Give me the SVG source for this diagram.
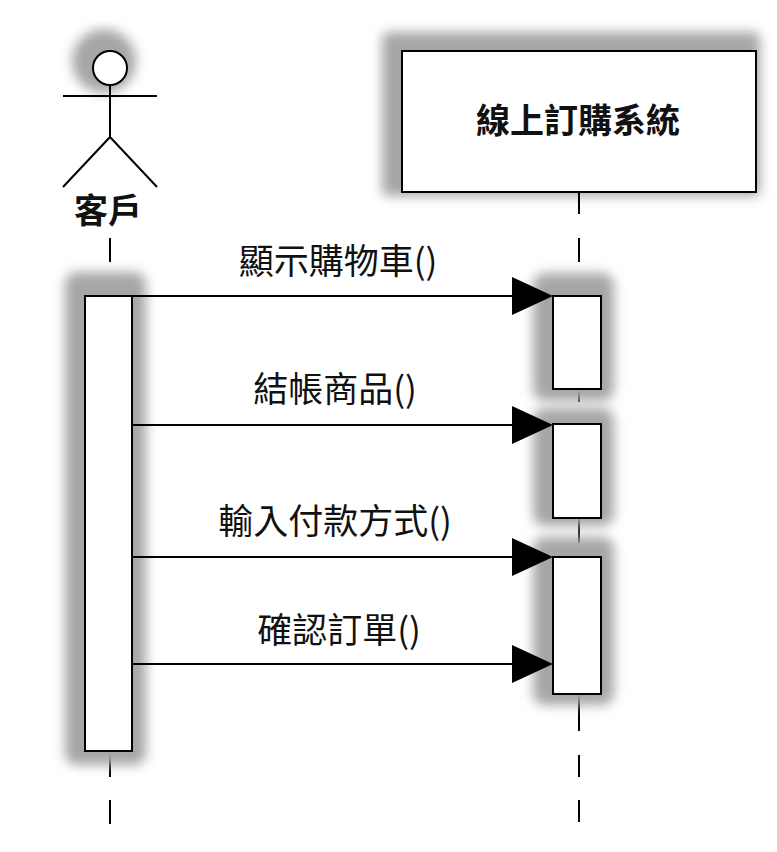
<svg xmlns="http://www.w3.org/2000/svg" width="777" height="852" viewBox="0 0 777 852">
  <style>
    .ln { stroke: #000; stroke-width: 2; fill: none; }
    .box { fill: #fff; stroke: #000; stroke-width: 2; }
    .sh { fill: #a6a6a6; filter: url(#blur); }
    .lbl { font-family: "Noto Sans CJK TC", "Noto Sans CJK SC", sans-serif; font-size: 35px; fill: #111; text-anchor: middle; }
    .ttl { font-family: "Noto Sans CJK TC", "Noto Sans CJK SC", sans-serif; font-size: 34px; font-weight: bold; fill: #111; text-anchor: middle; }
    .head { fill: #000; }
  </style>
  <defs>
    <filter id="blur" x="-50%" y="-50%" width="200%" height="200%">
      <feGaussianBlur stdDeviation="6"/>
    </filter>
  </defs>
  <rect width="777" height="852" fill="#fff"/>

  <g id="actor-customer">
    <circle class="sh" cx="104" cy="61" r="32"/>
    <circle class="box" cx="110" cy="68" r="17"/>
    <path class="ln" d="M63 96 H157 M110 85 V137 L63 187 M110 137 L157 187"/>
    <text class="ttl" x="108" y="223">客戶</text>
  </g>

  <g id="system">
    <rect class="sh" x="382" y="32" width="378" height="164" rx="6"/>
    <rect class="box" x="402" y="51" width="354" height="141"/>
    <text class="ttl" x="578" y="133">線上訂購系統</text>
  </g>

  <g id="lifelines">
    <path class="ln" d="M110 238 V262 M110 286 V296 M110 751 V777 M110 800 V824"/>
    <path class="ln" d="M579 192 V214 M579 238 V262 M579 286 V296 M579 389 V402 M579 518 V543 M579 694 V731 M579 755 V777 M579 800 V822"/>
  </g>

  <g id="activation-customer">
    <rect class="sh" x="65" y="272" width="81" height="493" rx="12"/>
    <rect class="box" x="85" y="296" width="47" height="455"/>
  </g>

  <g id="activation-system-1">
    <rect class="sh" x="533" y="273" width="81" height="128" rx="12"/>
    <rect class="box" x="553" y="296" width="48" height="93"/>
  </g>
  <g id="activation-system-2">
    <rect class="sh" x="533" y="408" width="81" height="118" rx="12"/>
    <rect class="box" x="553" y="424" width="48" height="94"/>
  </g>
  <g id="activation-system-3">
    <rect class="sh" x="533" y="537" width="81" height="168" rx="12"/>
    <rect class="box" x="553" y="557" width="48" height="137"/>
  </g>

  <g id="connectors">
    <path class="ln" d="M132 296 H515"/>
    <polygon class="head" points="512,277 553,296 512,315"/>
    <path class="ln" d="M132 425 H515"/>
    <polygon class="head" points="512,406 553,425 512,444"/>
    <path class="ln" d="M132 557 H515"/>
    <polygon class="head" points="512,538 553,557 512,576"/>
    <path class="ln" d="M132 664 H515"/>
    <polygon class="head" points="512,645 553,664 512,683"/>
  </g>

  <g id="labels">
    <text class="lbl" x="338" y="274">顯示購物車()</text>
    <text class="lbl" x="335" y="402">結帳商品()</text>
    <text class="lbl" x="335" y="534">輸入付款方式()</text>
    <text class="lbl" x="339" y="643">確認訂單()</text>
  </g>
</svg>
